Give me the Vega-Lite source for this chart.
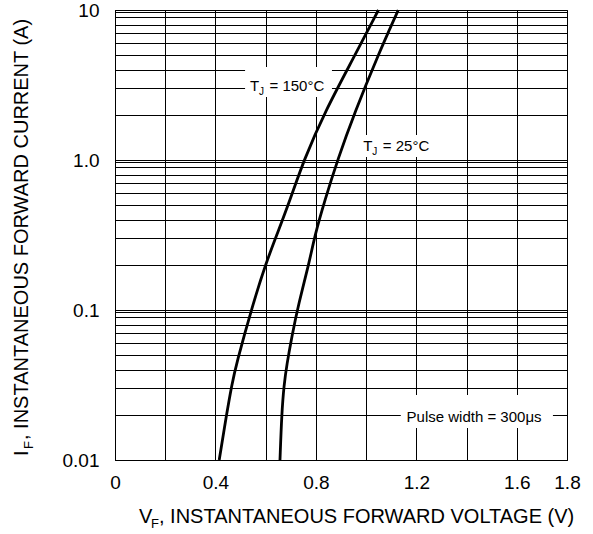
{
  "$schema": "https://vega.github.io/schema/vega-lite/v6.json",
  "width": 452,
  "height": 450,
  "autosize": {"type": "none"},
  "padding": {"left": 115, "top": 10, "right": 26, "bottom": 74},
  "background": "white",
  "config": {
    "font": "Liberation Sans",
    "view": {"stroke": "black", "strokeWidth": 1},
    "axis": {
      "grid": true,
      "gridColor": "black",
      "gridOpacity": 1,
      "gridWidth": 1,
      "domainColor": "black",
      "domainWidth": 1,
      "ticks": false,
      "labelColor": "black",
      "labelFont": "Liberation Sans",
      "labelFontSize": 19,
      "labelOverlap": false,
      "labelFlush": false
    }
  },
  "datasets": {
    "curves": [
      {"T": "150", "V": 0.415, "I": 0.01},
      {"T": "150", "V": 0.445, "I": 0.0205},
      {"T": "150", "V": 0.465, "I": 0.0316},
      {"T": "150", "V": 0.482, "I": 0.043},
      {"T": "150", "V": 0.548, "I": 0.108},
      {"T": "150", "V": 0.601, "I": 0.205},
      {"T": "150", "V": 0.644, "I": 0.316},
      {"T": "150", "V": 0.697, "I": 0.541},
      {"T": "150", "V": 0.752, "I": 1.0},
      {"T": "150", "V": 0.836, "I": 2.1},
      {"T": "150", "V": 0.949, "I": 4.76},
      {"T": "150", "V": 1.049, "I": 10},
      {"T": "25", "V": 0.657, "I": 0.01},
      {"T": "25", "V": 0.664, "I": 0.0205},
      {"T": "25", "V": 0.673, "I": 0.0316},
      {"T": "25", "V": 0.684, "I": 0.043},
      {"T": "25", "V": 0.704, "I": 0.0664},
      {"T": "25", "V": 0.731, "I": 0.11},
      {"T": "25", "V": 0.773, "I": 0.205},
      {"T": "25", "V": 0.796, "I": 0.316},
      {"T": "25", "V": 0.836, "I": 0.541},
      {"T": "25", "V": 0.886, "I": 1.0},
      {"T": "25", "V": 0.956, "I": 2.1},
      {"T": "25", "V": 1.042, "I": 4.76},
      {"T": "25", "V": 1.128, "I": 10}
    ],
    "boxes": [
      {"x1": 0.518, "x2": 0.864, "y1": 2.63, "y2": 4.17},
      {"x1": 0.968, "x2": 1.262, "y1": 1.047, "y2": 1.47},
      {"x1": 1.138, "x2": 1.744, "y1": 0.01634, "y2": 0.0271}
    ],
    "labels": [
      {"V": 0.5376, "I": 2.9, "main": "T", "sub": "J", "rest": "= 150°C"},
      {"V": 0.9888, "I": 1.153, "main": "T", "sub": "J", "rest": "= 25°C"},
      {"V": 1.1611, "I": 0.0178, "main": "Pulse width = 300μs", "sub": "", "rest": ""}
    ]
  },
  "layer": [
    {
      "data": {"name": "boxes"},
      "mark": {"type": "rect", "fill": "white", "stroke": null},
      "encoding": {
        "x": {
          "field": "x1", "type": "quantitative",
          "scale": {"domain": [0, 1.8], "nice": false, "zero": false},
          "axis": {
            "title": null,
            "values": [0, 0.2, 0.4, 0.6, 0.8, 1, 1.2, 1.4, 1.6, 1.8],
            "labelExpr": "datum.value == 0 ? '0' : (datum.value == 0.2 || datum.value == 0.6 || datum.value == 1 || datum.value == 1.4) ? '' : format(datum.value, '.1f')",
            "labelPadding": 13,
            "labelAngle": 0
          }
        },
        "x2": {"field": "x2"},
        "y": {
          "field": "y1", "type": "quantitative",
          "scale": {"type": "log", "domain": [0.01, 10], "nice": false},
          "axis": {
            "title": null,
            "values": [0.01, 0.02, 0.03, 0.04, 0.05, 0.06, 0.07, 0.08, 0.09, 0.0965, 0.1, 0.2, 0.3, 0.4, 0.5, 0.6, 0.7, 0.8, 0.9, 0.965, 1, 2, 3, 4, 5, 6, 7, 8, 9, 9.65, 10],
            "labelExpr": "datum.value == 0.01 ? '0.01' : datum.value == 0.1 ? '0.1' : datum.value == 1 ? '1.0' : datum.value == 10 ? '10' : ''",
            "labelPadding": 16
          }
        },
        "y2": {"field": "y2"}
      }
    },
    {
      "data": {"name": "labels"},
      "mark": {"type": "text", "align": "left", "baseline": "alphabetic", "fontSize": 15, "color": "black"},
      "encoding": {
        "x": {"field": "V", "type": "quantitative", "title": null},
        "y": {"field": "I", "type": "quantitative", "title": null},
        "text": {"field": "main"}
      }
    },
    {
      "data": {"name": "labels"},
      "mark": {"type": "text", "align": "left", "baseline": "alphabetic", "fontSize": 10, "dx": 9, "dy": 4, "color": "black"},
      "encoding": {
        "x": {"field": "V", "type": "quantitative", "title": null},
        "y": {"field": "I", "type": "quantitative", "title": null},
        "text": {"field": "sub"}
      }
    },
    {
      "data": {"name": "labels"},
      "mark": {"type": "text", "align": "left", "baseline": "alphabetic", "fontSize": 15, "dx": 19.5, "color": "black"},
      "encoding": {
        "x": {"field": "V", "type": "quantitative", "title": null},
        "y": {"field": "I", "type": "quantitative", "title": null},
        "text": {"field": "rest"}
      }
    },
    {
      "data": {"name": "curves"},
      "mark": {"type": "line", "interpolate": "basis", "color": "black", "strokeWidth": 2.8},
      "encoding": {
        "x": {"field": "V", "type": "quantitative", "title": null},
        "y": {"field": "I", "type": "quantitative", "title": null},
        "detail": {"field": "T"}
      }
    },
    {
      "data": {"values": [{}]},
      "layer": [
        {"mark": {"type": "text", "text": "V", "align": "left", "baseline": "alphabetic", "fontSize": 20, "dx": 24, "dy": 62.5, "color": "black"}},
        {"mark": {"type": "text", "text": "F", "align": "left", "baseline": "alphabetic", "fontSize": 13, "dx": 36, "dy": 68, "color": "black"}},
        {"mark": {"type": "text", "text": ", INSTANTANEOUS FORWARD VOLTAGE (V)", "align": "left", "baseline": "alphabetic", "fontSize": 20, "dx": 44, "dy": 62.5, "color": "black"}},
        {"mark": {"type": "text", "text": "I", "angle": 270, "align": "left", "baseline": "alphabetic", "fontSize": 20, "dx": 4, "dy": -86.7, "color": "black"}},
        {"mark": {"type": "text", "text": "F", "angle": 270, "align": "left", "baseline": "alphabetic", "fontSize": 13, "dx": 11, "dy": -81.7, "color": "black"}},
        {"mark": {"type": "text", "text": ", INSTANTANEOUS FORWARD CURRENT (A)", "angle": 270, "align": "left", "baseline": "alphabetic", "fontSize": 20, "dx": 20, "dy": -86.7, "color": "black"}}
      ],
      "encoding": {
        "x": {"datum": 0, "type": "quantitative"},
        "y": {"datum": 0.01, "type": "quantitative"}
      }
    }
  ]
}
